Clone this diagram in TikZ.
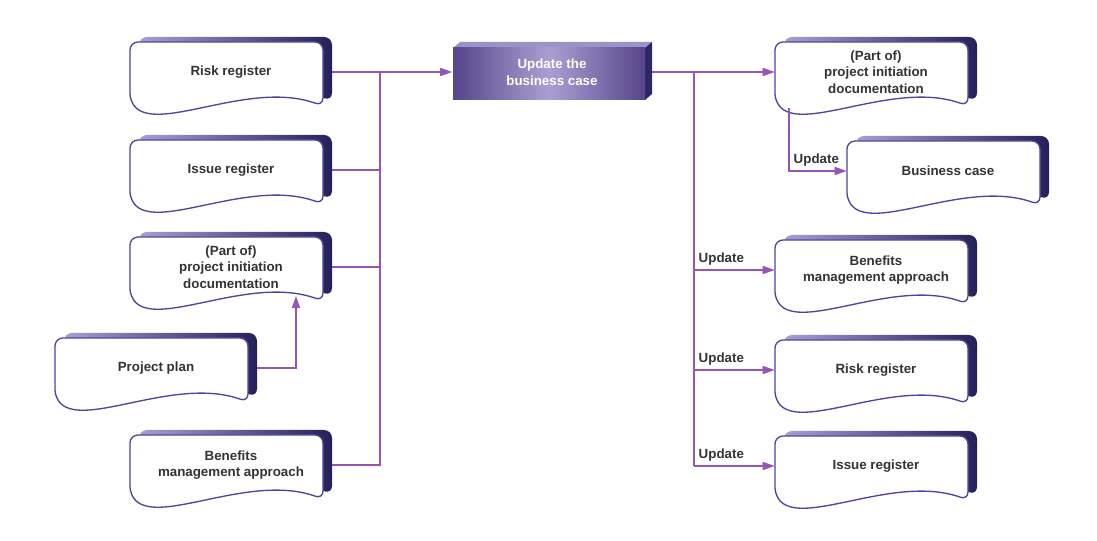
\documentclass[tikz,border=0pt]{standalone}
\usepackage{fontspec}
\setmainfont{Liberation Sans}
\usetikzlibrary{arrows.meta,calc}

\begin{document}
\begin{tikzpicture}[x=0.75pt,y=-0.75pt,font=\bfseries\fontsize{10}{12.5}\selectfont]

  \definecolor{linkcol}{HTML}{9455B5}
  \definecolor{edgecol}{HTML}{4B44A0}
  \definecolor{backlight}{HTML}{A89ED4}
  \definecolor{backdark}{HTML}{242058}
  \definecolor{textcol}{HTML}{333333}
  \definecolor{updlight}{HTML}{A99FD2}
  \definecolor{upddark}{HTML}{56468A}

  \tikzstyle{link}=[draw=linkcol,line width=1.1pt]
  \tikzstyle{arrow}=[link,-{Triangle[length=9pt,width=6pt]}]
  \tikzstyle{docfront}=[draw=edgecol,line width=1pt,fill=white,rounded corners=6pt]
  \tikzstyle{docback}=[left color=backlight,right color=backdark,rounded corners=6pt]
  \tikzstyle{doctext}=[align=center,inner sep=0pt,minimum width=151.5pt,minimum height=46.5pt,text=textcol]
  \tikzstyle{updfront}=[left color=upddark,right color=upddark,middle color=updlight]
  \tikzstyle{updtop}=[fill=updlight!85!upddark]
  \tikzstyle{updside}=[fill=backdark!80!upddark]
  \tikzstyle{updtext}=[align=center,inner sep=0pt,minimum width=149.25pt,minimum height=43.5pt,text=white]
  \tikzstyle{updlabel}=[anchor=south west,inner sep=3pt,text=textcol]

  % ====================
  % Parameters
  % ====================
  \def\docpath{(92,34) .. controls (20,8) and (-70,60) .. (-101,30) -- (-101,-30) -- (92,-30) -- cycle}  % Document outline
  \def\backshift{(9,-5)}  % Offset of the dark back face
  % ====================

  \useasboundingbox (0,0) rectangle (1097,541);

  % ====================
  % Inputs
  % ====================
  \begin{scope}[shift={(231,72)}]
    \shade[docback,shift=\backshift] \docpath;
    \draw[docfront] \docpath;
    \node[doctext] (riskL) {Risk register};
  \end{scope}

  \begin{scope}[shift={(231,170)}]
    \shade[docback,shift=\backshift] \docpath;
    \draw[docfront] \docpath;
    \node[doctext] (issueL) {Issue register};
  \end{scope}

  \begin{scope}[shift={(231,267)}]
    \shade[docback,shift=\backshift] \docpath;
    \draw[docfront] \docpath;
    \node[doctext] (pidL) {(Part of)\\project initiation\\documentation};
  \end{scope}

  \begin{scope}[shift={(156,368)}]
    \shade[docback,shift=\backshift] \docpath;
    \draw[docfront] \docpath;
    \node[doctext] (planL) {Project plan};
  \end{scope}

  \begin{scope}[shift={(231,465)}]
    \shade[docback,shift=\backshift] \docpath;
    \draw[docfront] \docpath;
    \node[doctext] (benefitsL) {Benefits\\management approach};
  \end{scope}

  % ====================
  % Activity
  % ====================
  \begin{scope}[shift={(552,72)}]
    \fill[updtop] (-99,-24) -- (-92,-30) -- (100,-30) -- (93,-24) -- cycle;
    \fill[updside] (93,-24) -- (100,-30) -- (100,22) -- (93,28) -- cycle;
    \shade[updfront] (-99,-24) rectangle (93,28);
    \node[updtext] (update) {Update the\\business case};
  \end{scope}

  % ====================
  % Outputs
  % ====================
  \begin{scope}[shift={(876,72)}]
    \shade[docback,shift=\backshift] \docpath;
    \draw[docfront] \docpath;
    \node[doctext] (pidR) {(Part of)\\project initiation\\documentation};
  \end{scope}

  \begin{scope}[shift={(948,171)}]
    \shade[docback,shift=\backshift] \docpath;
    \draw[docfront] \docpath;
    \node[doctext] (caseR) {Business case};
  \end{scope}

  \begin{scope}[shift={(876,270)}]
    \shade[docback,shift=\backshift] \docpath;
    \draw[docfront] \docpath;
    \node[doctext] (benefitsR) {Benefits\\management approach};
  \end{scope}

  \begin{scope}[shift={(876,370)}]
    \shade[docback,shift=\backshift] \docpath;
    \draw[docfront] \docpath;
    \node[doctext] (riskR) {Risk register};
  \end{scope}

  \begin{scope}[shift={(876,466)}]
    \shade[docback,shift=\backshift] \docpath;
    \draw[docfront] \docpath;
    \node[doctext] (issueR) {Issue register};
  \end{scope}

  % ====================
  % Connectors
  % ====================
  \coordinate (busL) at (380,72);
  \coordinate (busR) at (694,72);
  \coordinate (planIn) at (296,296);
  \coordinate (pidOut) at (789,108);

  \draw[arrow] (riskL.east) -- (update.west);
  \draw[link] (issueL.east) -- (issueL.east -| busL);
  \draw[link] (pidL.east) -- (pidL.east -| busL);
  \draw[link] (benefitsL.east) -| (busL);
  \draw[arrow] (planL.east) -| (planIn);

  \draw[arrow] (update.east) -- (pidR.west);
  \draw[link] (busR) -- (busR |- issueR.west);
  \draw[arrow] (pidOut) |- (caseR.west) node[pos=0.5,updlabel] (updCase) {Update};
  \draw[arrow] (busR |- benefitsR.west) -- (benefitsR.west) node[pos=0,updlabel] (updBenefits) {Update};
  \draw[arrow] (busR |- riskR.west) -- (riskR.west) node[pos=0,updlabel] (updRisk) {Update};
  \draw[arrow] (busR |- issueR.west) -- (issueR.west) node[pos=0,updlabel] (updIssue) {Update};
\end{tikzpicture}
\end{document}
